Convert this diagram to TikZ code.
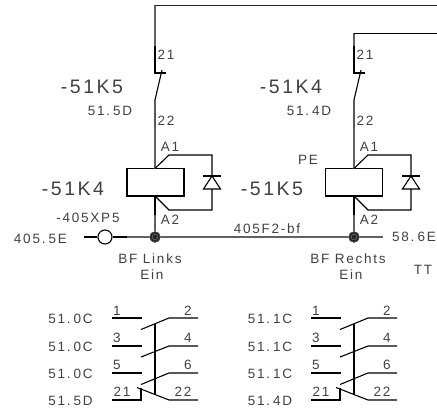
\documentclass[tikz,border=0pt]{standalone}
\usepackage{fontspec}
\newfontfamily\plcfont[LetterSpace=13]{Liberation Sans}
\newcommand{\dt}{.\kern3.2pt}
\definecolor{wiregray}{gray}{0.38}
\definecolor{txtgray}{gray}{0.25}
\tikzset{
  wire/.style={line width=1.1pt,black},
  thin wire/.style={line width=1.1pt,wiregray},
  coil/.style={draw,line width=1.2pt,minimum width=57pt,minimum height=27.5pt,inner sep=0pt},
  joint/.style={circle,fill=black!85,draw=black!70,line width=.6pt,minimum size=10.5pt,inner sep=0pt},
  plug/.style={circle,draw,fill=white,line width=1.1pt,minimum size=14pt,inner sep=0pt},
  big/.style={font=\plcfont\fontsize{19.5}{19.5}\selectfont,text=txtgray,inner sep=0pt},
  small/.style={font=\plcfont\fontsize{13.5}{13.5}\selectfont,text=txtgray,inner sep=0pt},
}
\begin{document}
\begin{tikzpicture}[x=1pt,y=-1pt]
\useasboundingbox (0,0) rectangle (437,408);
\clip (0,0) rectangle (437,408);

% nodes
\node[coil] (coilL) at (155.5,182.3) {};
\node[coil] (coilR) at (354,182.3) {};
\node[joint] (dotL) at (155,237) {};
\node[joint] (dotR) at (354,237) {};
\node[plug] (plug) at (105,237) {};
\coordinate (feedL) at (437,5);
\coordinate (feedR) at (437,33);
\coordinate (busIn) at (84,237);
\coordinate (busOut) at (383,237);

% repeated relay column
\foreach \n/\x/\ty/\c in {L/155/5/coilL,R/354/33/coilR}{
  \draw[thin wire] (\x,46) -- (\x,\ty);
  \draw[wire] (\x,46) -- (\x,73) -- (\x+11,73);
  \draw[wire] (\x+7,70) -- (\x,100) -- (\x,128);
  \draw[thin wire] (\x,128) -- (\x,168.5);
  \draw[wire] (\x,168.5) -- (\x+14,155) -- (\x+57,155) -- (\x+57,176);
  \draw[wire] (\x+57,189) -- (\x+57,210) -- (\x+14,210) -- (\x,196);
  \draw[wire] (\x+48,176) -- (\x+66,176);
  \draw[wire] (\x+57,176) -- (\x+48.5,189) -- (\x+65.5,189) -- cycle;
  \draw[wire] (\x,196) -- (\x,215);
  \draw[thin wire] (\x,215) -- (dot\n);
}
\draw[line width=1pt,black!85] (155,5) -- (feedL);
\draw[line width=1pt,black] (354,33) -- (feedR);

% bus
\draw[wire] (busIn) -- (plug);
\draw[wire] (plug) -- (127,237);
\draw[thin wire] (127,237) -- (dotL) -- (dotR) -- (busOut);
\node[joint] at (dotL) {};
\node[joint] at (dotR) {};
\draw[gray,line width=.4pt] (dotL) circle (2.8pt) (dotR) circle (2.8pt);

% contact blocks
\foreach \dx in {0,199}{
  \begin{scope}[xshift=\dx pt]
    \draw[wire] (112,318) -- (141.5,318);
    \draw[wire] (112,346) -- (141.5,346);
    \draw[wire] (112,373) -- (141.5,373);
    \draw[wire] (198,318) -- (169,318) -- (141,329.5);
    \draw[wire] (198,346) -- (169,346) -- (141,357);
    \draw[wire] (198,373) -- (169,373) -- (141,384.5);
    \draw[wire] (155,323.5) -- (155,395);
    \draw[wire] (112,400) -- (141,400) -- (141,388);
    \draw[wire] (198,400) -- (169,400) -- (137,387.5);
  \end{scope}
}

% labels
\node[big] (t1) at (92,87) {-51K5};
\node[big] (t2) at (291,87) {-51K4};
\node[big] (t3) at (73,189) {-51K4};
\node[big] (t4) at (272,189) {-51K5};
\foreach \x/\y/\s in {110/111/51\dt 5D,309/111/51\dt 4D,
  166/55/21,365/55/21,166/121/22,365/121/22,
  170/147/A1,369/147/A1,170/220/A2,369/220/A2,
  88/218/-405XP5,40.5/239/405\dt 5E,150/259/BF Links,152/275/Ein,
  267/229/405F2-bf,308/160/PE,348/259/BF Rechts,351/275/Ein,423/270/TT,
  70.5/319/51\dt 0C,70.5/346.5/51\dt 0C,70.5/374/51\dt 0C,70.5/401/51\dt 5D,
  270/319/51\dt 1C,270/346.5/51\dt 1C,270/374/51\dt 1C,270/401/51\dt 4D,
  117/311/1,188/311/2,117/338/3,188/338/4,117/365/5,188/365/6,122/392/21,183/392/22,
  316/311/1,387/311/2,316/338/3,387/338/4,316/365/5,387/365/6,321/392/21,382/392/22}{
  \node[small] at (\x,\y) {\s};
}
\node[small,anchor=west] (out) at (392,237) {58\dt 6E};
\end{tikzpicture}
\end{document}
